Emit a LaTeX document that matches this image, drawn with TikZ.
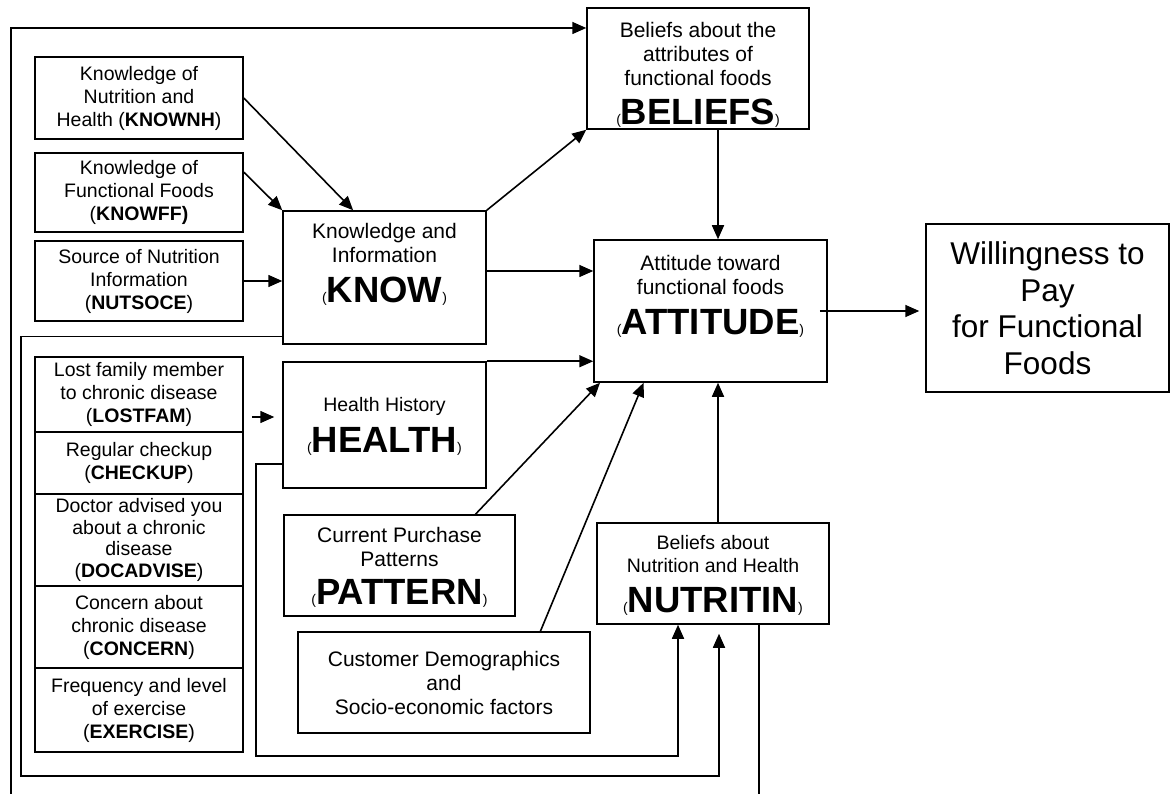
\documentclass[tikz,border=0pt]{standalone}
\usepackage{fontspec}
\setmainfont{Liberation Sans}
\usetikzlibrary{arrows.meta}

% big variable name with small brackets
\newcommand{\bigvar}[1]{\smash{{\fontsize{14}{14}\selectfont(}{\fontsize{36.5}{40}\selectfont\bfseries #1}{\fontsize{14}{14}\selectfont)}}}
\newcommand{\topbox}[3]{\parbox[c][#1][t]{#2}{\centering #3}}

\tikzset{
  box/.style={draw, line width=1.5pt, inner sep=0pt, align=center},
  small/.style={font=\fontsize{19.5}{23}\selectfont},
  mid/.style={font=\fontsize{21}{24}\selectfont},
  arr/.style={line width=1.6pt, -{Triangle[length=14pt,width=12pt]}},
}

\begin{document}
\begin{tikzpicture}[x=1pt, y=-1pt]
  \useasboundingbox (0,0) rectangle (1173,794);
  \clip (0,0) rectangle (1173,794);
  \fill[white] (0,0) rectangle (1173,794);
  % knowledge inputs
  \node[box, small, minimum width=208pt, minimum height=82pt] (knownh) at (139,98) {Knowledge of\\Nutrition and\\Health (\textbf{KNOWNH})};
  \node[box, small, minimum width=208pt, minimum height=79pt] (knowff) at (139,192.5) {Knowledge of\\Functional Foods\\(\textbf{KNOWFF)}};
  \node[box, small, minimum width=208pt, minimum height=80pt] (nutsoce) at (139,281) {Source of Nutrition\\Information\\(\textbf{NUTSOCE})};
  % health inputs
  \node[box, small, minimum width=208pt, minimum height=75pt] (lostfam) at (139,394.5) {Lost family member\\to chronic disease\\(\textbf{LOSTFAM})};
  \node[box, small, minimum width=208pt, minimum height=62pt] (checkup) at (139,463) {Regular checkup\\(\textbf{CHECKUP})};
  \node[box, font=\fontsize{19.5}{21.5}\selectfont, minimum width=208pt, minimum height=92pt] (docadvise) at (139,540) {Doctor advised you\\about a chronic\\disease\\(\textbf{DOCADVISE})};
  \node[box, small, minimum width=208pt, minimum height=82pt] (concern) at (139,627) {Concern about\\chronic disease\\(\textbf{CONCERN})};
  \node[box, small, minimum width=208pt, minimum height=84pt] (exercise) at (139,710) {Frequency and level\\of exercise\\(\textbf{EXERCISE})};
  % middle column
  \node[box, mid, minimum width=203pt, minimum height=133pt] (know) at (384.5,277.5) {\topbox{109pt}{195pt}{Knowledge and\\Information\\[16pt]\bigvar{KNOW}}};
  \node[box, small, minimum width=203pt, minimum height=126pt] (health) at (384.5,425) {Health History\\[18pt]\bigvar{HEALTH}};
  \node[box, mid, minimum width=231pt, minimum height=101pt] (pattern) at (399.5,565.5) {Current Purchase\\Patterns\\[14pt]\bigvar{PATTERN}};
  \node[box, mid, minimum width=292pt, minimum height=101pt] (demo) at (444,682.5) {Customer Demographics\\and\\Socio-economic factors};
  % right column
  \node[box, mid, minimum width=222pt, minimum height=121pt] (beliefs) at (698,68.5) {\topbox{93pt}{214pt}{Beliefs about the\\attributes of\\functional foods\\[15pt]\bigvar{BELIEFS}}};
  \node[box, mid, minimum width=233pt, minimum height=142pt] (att) at (710.5,311) {\topbox{112pt}{225pt}{Attitude toward\\functional foods\\[16pt]\bigvar{ATTITUDE}}};
  \node[box, small, minimum width=232pt, minimum height=101pt] (nut) at (713,573.5) {Beliefs about\\Nutrition and Health\\[17pt]\bigvar{NUTRITIN}};
  \node[box, font=\fontsize{31.5}{36.5}\selectfont, minimum width=243pt, minimum height=168pt] (wtp) at (1047.5,308) {Willingness to\\Pay\\for Functional\\Foods};
  % helper points
  \coordinate (xa) at (718,0);
  \coordinate (ka) at ([yshift=6.5pt]know.east);
  \coordinate (as) at ([xshift=-8pt]att.east);
  \coordinate (hs) at ([xshift=-8pt,yshift=8pt]health.west);
  \coordinate (ls) at ([xshift=8pt]lostfam.east);
  \coordinate (tc1) at (759,810);
  \coordinate (tc2) at (11,28);
  \coordinate (kc1) at (21,776);
  \coordinate (kc2) at (719,776);
  \coordinate (hc1) at (256,756);
  \coordinate (hc2) at (678,756);
  % arrows
  \draw[arr] (knownh.east) -- (know.115);
  \draw[arr] (knowff.11) -- (know.north west);
  \draw[arr] (nutsoce.east) -- (know.west |- nutsoce.east);
  \draw[arr] (know.north east) -- (beliefs.south west);
  \draw[arr] (ka) -- (ka -| att.west);
  \draw[arr] (health.north east) -- (att.west |- health.north east);
  \draw[arr] (ls |- hs) -- (hs);
  \draw[arr] (beliefs.south -| xa) -- (att.north -| xa);
  \draw[arr] (nut.north -| xa) -- (att.south -| xa);
  \draw[arr] (pattern.34) -- (att.213);
  \draw[arr] (demo.28) -- (att.227);
  \draw[arr, shorten >=6pt] (as) -- (as -| wtp.west);
  % loops
  \draw[arr] (nut.south -| tc1) -- (tc1) -| (tc2) -- (tc2 -| beliefs.west);
  \draw[arr, shorten >=9pt] (know.210) -| (kc1) -- (kc2) -- (kc2 |- nut.south);
  \draw[arr] (health.201) -| (hc1) -- (hc2) -- (hc2 |- nut.south);
\end{tikzpicture}
\end{document}
